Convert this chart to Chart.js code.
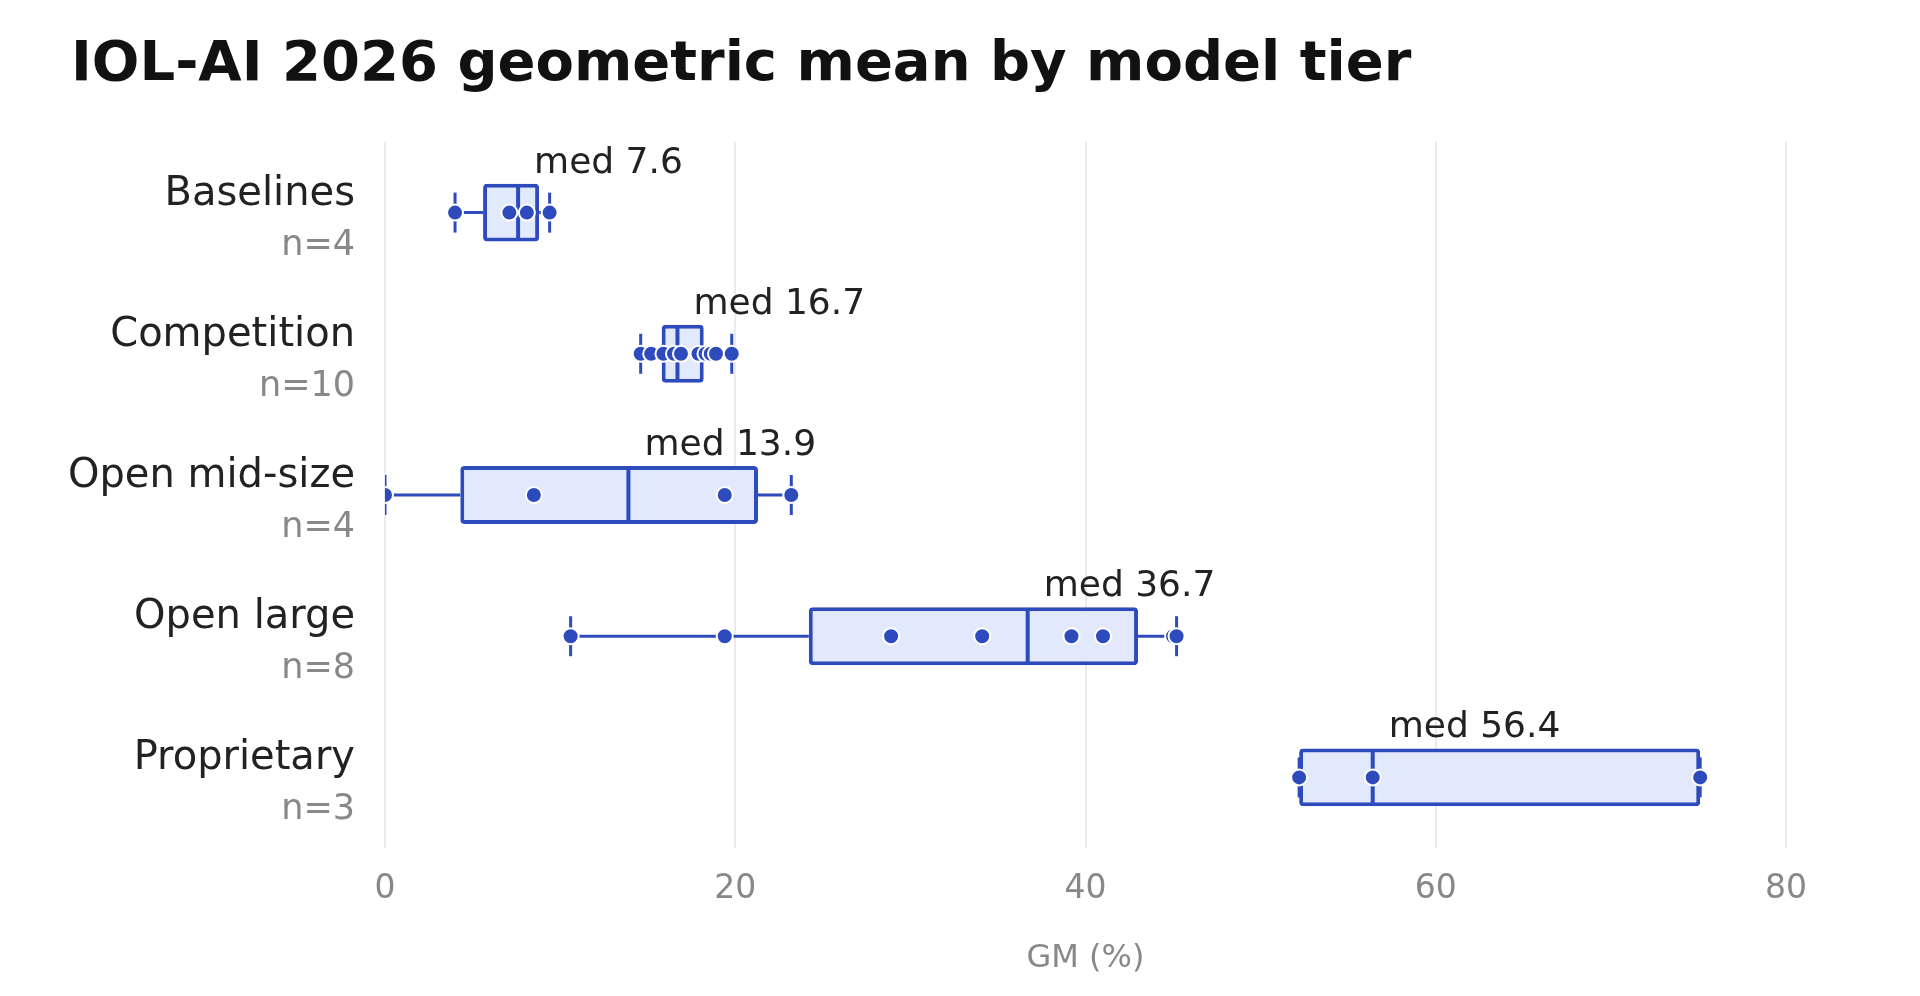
<!DOCTYPE html>
<html>
<head>
<meta charset="utf-8">
<script src="https://cdn.jsdelivr.net/npm/chart.js@4/dist/chart.umd.min.js"></script>
<style>
  body { margin: 0; background: #fff; }
  #wrap { width: 1920px; height: 996px; }
</style>
</head>
<body>
<div id="wrap"><canvas id="box"></canvas></div>
<script>
const tiers = ['Baselines', 'Competition', 'Open mid-size', 'Open large', 'Proprietary'];
const counts = [4, 10, 4, 8, 3];
const mins = [4.0, 14.6, 0.0, 10.6, 52.2];
const q1s = [5.6, 15.8, 4.3, 24.2, 52.2];
const medians = [7.6, 16.7, 13.9, 36.7, 56.4];
const q3s = [8.8, 18.2, 21.3, 43.0, 75.1];
const maxs = [9.4, 19.8, 23.2, 45.2, 75.1];
const points = [
    [4.0, 7.1, 8.1, 9.4],
    [14.6, 15.2, 15.9, 16.5, 16.9, 17.9, 18.3, 18.6, 18.9, 19.8],
    [0.0, 8.5, 19.4, 23.2],
    [10.6, 19.4, 28.9, 34.1, 39.2, 41.0, 45.0, 45.2],
    [52.2, 56.4, 75.1]
];
const xTicks = [0, 20, 40, 60, 80];

const blue = '#2e4bbd';
const boxFill = '#e3e9fc';

let datasets = [];

// whiskers
tiers.forEach(function (t, i) {
    datasets.push({
        type: 'line', order: 3, data: [{ x: mins[i], y: t }, { x: q1s[i], y: t }],
        borderColor: blue, borderWidth: 3, pointRadius: 0
    });
    datasets.push({
        type: 'line', order: 3, data: [{ x: q3s[i], y: t }, { x: maxs[i], y: t }],
        borderColor: blue, borderWidth: 3, pointRadius: 0
    });
});

// boxes
datasets.push({
    type: 'bar', order: 2,
    data: tiers.map(function (t, i) { return [q1s[i], q3s[i]]; }),
    backgroundColor: boxFill, borderColor: blue, borderWidth: 4,
    borderRadius: 4, borderSkipped: false,
    barPercentage: 0.41, categoryPercentage: 1
});

// whisker caps
datasets.push({
    type: 'line', order: 1, showLine: false,
    data: tiers.flatMap(function (t, i) { return [{ x: mins[i], y: t }, { x: maxs[i], y: t }]; }),
    pointStyle: 'line', rotation: 90, pointRadius: 20, borderColor: blue, borderWidth: 3
});

// medians
datasets.push({
    type: 'line', order: 1, showLine: false,
    data: tiers.map(function (t, i) { return { x: medians[i], y: t }; }),
    pointStyle: 'line', rotation: 90, pointRadius: 28, borderColor: blue, borderWidth: 4
});

// points
datasets.push({
    type: 'line', order: 0, showLine: false,
    data: tiers.flatMap(function (t, i) { return points[i].map(function (v) { return { x: v, y: t }; }); }),
    pointRadius: 8, backgroundColor: blue, borderColor: '#ffffff', borderWidth: 2
});

const labelsPlugin = {
    id: 'labels',
    afterDraw: function (chart) {
        const ctx = chart.ctx;
        const xs = chart.scales.x, ys = chart.scales.y;
        ctx.save();
        ctx.fillStyle = '#111';
        ctx.font = 'bold 56px "DejaVu Sans"';
        ctx.textAlign = 'left';
        ctx.textBaseline = 'alphabetic';
        ctx.fillText('IOL-AI 2026 geometric mean by model tier', 71, 80);

        tiers.forEach(function (t, i) {
            const yc = ys.getPixelForValue(i);
            ctx.textAlign = 'right';
            ctx.fillStyle = '#222';
            ctx.font = '40px "DejaVu Sans"';
            ctx.fillText(t, 355, yc - 8);
            ctx.fillStyle = '#888';
            ctx.font = '35px "DejaVu Sans"';
            ctx.fillText('n=' + counts[i], 355, yc + 42);

            ctx.textAlign = 'left';
            ctx.fillStyle = '#222';
            ctx.font = '36px "DejaVu Sans"';
            ctx.fillText('med ' + medians[i].toFixed(1), xs.getPixelForValue(medians[i]) + 16, yc - 40);
        });
        ctx.restore();
    }
};

new Chart(document.getElementById('box'), {
    type: 'bar',
    data: { labels: tiers, datasets: datasets },
    options: {
        indexAxis: 'y',
        responsive: true,
        maintainAspectRatio: false,
        animation: false,
        layout: { padding: { left: 385, right: 134, top: 142, bottom: 14 } },
        plugins: { legend: { display: false }, tooltip: { enabled: false } },
        scales: {
            x: {
                type: 'linear', min: 0, max: 80,
                afterBuildTicks: function (axis) { axis.ticks = xTicks.map(function (v) { return { value: v }; }); },
                grid: { color: '#ebebeb', lineWidth: 2, drawTicks: false },
                border: { display: false },
                ticks: { color: '#888', font: { size: 33, family: 'DejaVu Sans' }, padding: 22 },
                title: { display: true, text: 'GM (%)', color: '#888', font: { size: 32, family: 'DejaVu Sans' }, padding: { top: 8 } }
            },
            y: { display: false }
        }
    },
    plugins: [labelsPlugin]
});
</script>
</body>
</html>
